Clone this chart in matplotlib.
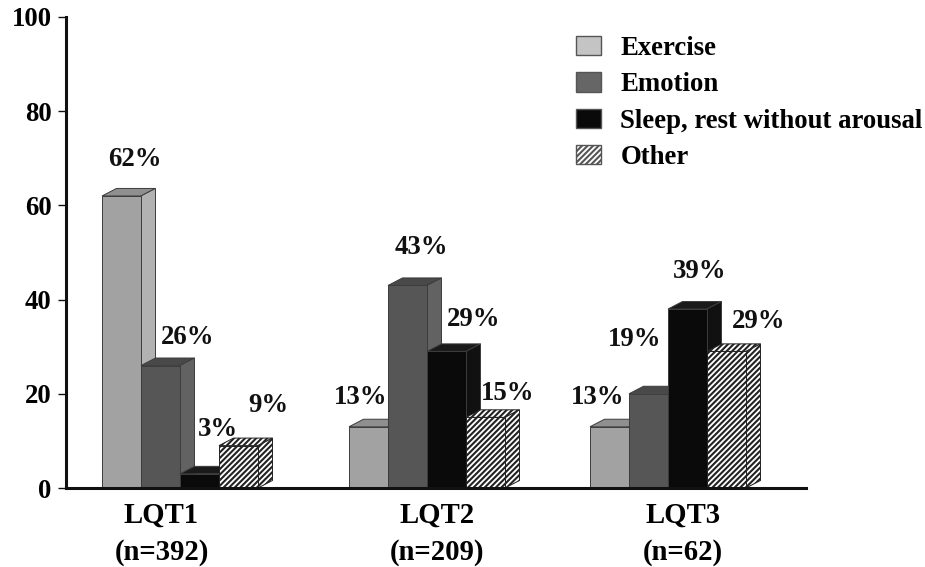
#!/usr/bin/env python3
"""Triggers for cardiac events by LQT genotype, drawn as pseudo-3D bars."""

import matplotlib
matplotlib.use('Agg')
import matplotlib.pyplot as plt
from matplotlib.patches import Patch, Polygon

plt.rcParams['font.family'] = ['Liberation Serif', 'DejaVu Serif']
plt.rcParams['font.weight'] = 'bold'
plt.rcParams['hatch.linewidth'] = 1.5

W, H = 925, 567
X0, X1 = 66, 806
Y_ZERO, Y_HUNDRED = 488, 17
FONT = 19.3

groups = ['LQT1\n(n=392)', 'LQT2\n(n=209)', 'LQT3\n(n=62)']
triggers = ['Exercise', 'Emotion', 'Sleep, rest without arousal', 'Other']

# bar heights as drawn (LQT3 differs a little from its printed labels)
exercise = [62, 13, 13]
emotion = [26, 43, 20]
sleep = [3, 29, 38]
other = [9, 15, 29]
series = [exercise, emotion, sleep, other]

exercise_labels = ['62%', '13%', '13%']
emotion_labels = ['26%', '43%', '19%']
sleep_labels = ['3%', '29%', '39%']
other_labels = ['9%', '15%', '29%']
labels = [exercise_labels, emotion_labels, sleep_labels, other_labels]

# styling and layout, in pixels of the 925x567 picture
group_left = [102, 349, 590]
group_center = [161.5, 437, 683]
bar_w = 39
depth_x, depth_y = 14.5, 1.6
front = ['#a2a2a2', '#565656', '#0a0a0a', 'white']
side = ['#b2b2b2', '#626262', '#111111', 'white']
top = ['#8f8f8f', '#494949', '#1a1a1a', 'white']
swatch = ['#c4c4c4', '#666666', '#0a0a0a', 'white']
label_px = [
    [(135, 160), (361, 398), (598, 397)],
    [(188, 338), (421, 247), (635, 340)],
    [(218, 429), (474, 320), (700, 272)],
    [(268, 405), (508, 394), (759, 322)],
]


def y_from_px(py):
    return (Y_ZERO - py) * 100 / (Y_ZERO - Y_HUNDRED)


def bar_3d(ax, x, width, height, i):
    """Top and side faces first, then the front from ax.bar"""
    hatch = '//////' if i == 3 else None
    edge = '#222222' if i == 3 else '#3c3c3c'
    x2 = x + width
    faces = [
        ([(x, height), (x2, height), (x2 + depth_x, height + depth_y), (x + depth_x, height + depth_y)], top[i]),
        ([(x2, 0), (x2 + depth_x, depth_y), (x2 + depth_x, height + depth_y), (x2, height)], side[i]),
    ]
    for pts, color in faces:
        ax.add_patch(Polygon(pts, closed=True, facecolor=color, edgecolor=edge,
                             linewidth=0.7, hatch=hatch, clip_on=False))
    ax.bar(x, height, width, align='edge', color=front[i], edgecolor=edge,
           linewidth=0.7, hatch=hatch)


fig = plt.figure(figsize=(W / 100, H / 100), dpi=100)
ax = fig.add_axes([X0 / W, 1 - Y_ZERO / H, (X1 - X0) / W, (Y_ZERO - Y_HUNDRED) / H])

for g, left in enumerate(group_left):
    for i, values in enumerate(series):
        bar_3d(ax, left + i * bar_w, bar_w, values[g], i)

for i, row in enumerate(labels):
    for g, text in enumerate(row):
        px, py = label_px[i][g]
        ax.text(px, y_from_px(py), text, ha='center', va='center', fontsize=FONT,
                color='#111111', clip_on=False)

ax.set_xlim(X0, X1)
ax.set_ylim(0, 100)
ax.set_yticks([0, 20, 40, 60, 80, 100])
ax.set_xticks(group_center)
ax.set_xticklabels(groups, linespacing=1.45)
ax.tick_params(axis='y', length=6, width=1, labelsize=FONT, pad=4.3, color='#111111')
ax.tick_params(axis='x', length=0, labelsize=20.7, pad=10)
for name in ['top', 'right']:
    ax.spines[name].set_visible(False)
for name in ['left', 'bottom']:
    ax.spines[name].set_linewidth(2.2)
    ax.spines[name].set_color('#111111')

handles = [Patch(facecolor=swatch[i], edgecolor='#555555', linewidth=1,
                 hatch='//////' if i == 3 else None) for i in range(4)]
ax.legend(handles, triggers, loc='upper left', bbox_to_anchor=(0.689, 0.96),
          frameon=False, fontsize=FONT, handlelength=0.94, handleheight=0.74,
          handletextpad=0.72, labelspacing=0.42, borderpad=0, borderaxespad=0)

fig.savefig('out.png', dpi=100)
